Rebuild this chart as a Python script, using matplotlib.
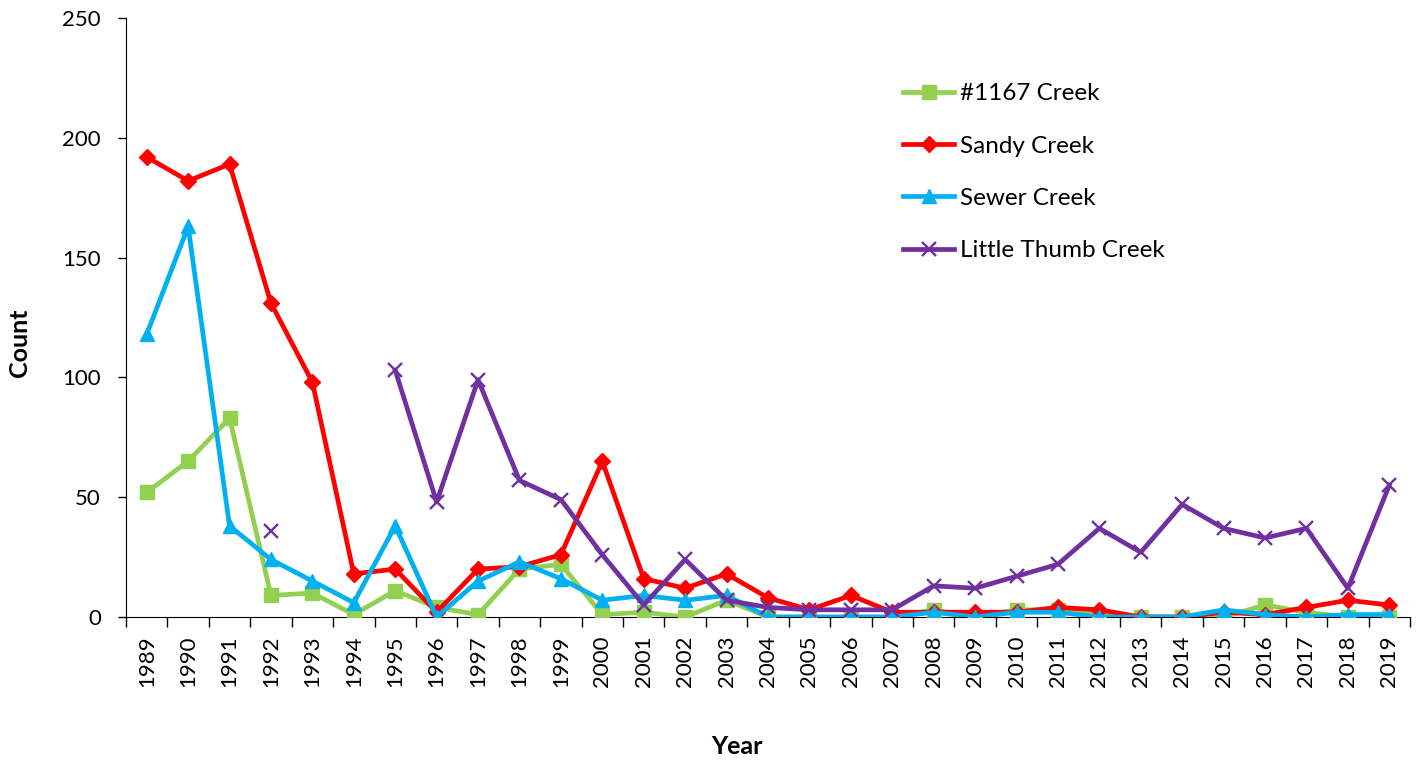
import numpy as np
import matplotlib
matplotlib.use("Agg")
import matplotlib.pyplot as plt
from matplotlib.ticker import FixedLocator

plt.rcParams['font.family'] = ['Lato', 'DejaVu Sans']

years = list(range(1989, 2020))
nan = np.nan
creek_1167 = [52, 65, 83, 9, 10, 1, 11, 4, 1, 20, 22, 1, 2, 0, 7, 0, 0, 0, 0, 3, 0, 3, 3, 1, 0, 0, 0, 5, 2, 0, 0]
sandy = [192, 182, 189, 131, 98, 18, 20, 2, 20, 21, 26, 65, 16, 12, 18, 8, 3, 9, 2, 2, 2, 2, 4, 3, 0, 0, 2, 1, 4, 7, 5]
sewer = [118, 163, 38, 24, 15, 6, 38, 0, 15, 23, 16, 7, 9, 7, 9, 0, 0, 0, 0, 2, 0, 2, 2, 0, 0, 0, 3, 1, 0, 1, 1]
little_thumb = [nan, nan, nan, 36, nan, nan, 103, 48, 99, 57, 49, 26, 5, 24, 7, 4, 3, 3, 3, 13, 12, 17, 22, 37, 27, 47, 37, 33, 37, 12, 55]

labels = ['#1167 Creek', 'Sandy Creek', 'Sewer Creek', 'Little Thumb Creek']

W, H = 1424, 763
fig = plt.figure(figsize=(W / 100, H / 100), dpi=100)
ax = fig.add_axes([126 / W, 1 - 617 / H, (1410 - 126) / W, (617 - 18) / H])

x = np.arange(len(years))
lw = 3.4
ax.plot(x, creek_1167, color='#92D050', lw=lw, marker='s', ms=10, label=labels[0], zorder=3)
ax.plot(x, sandy, color='#FF0000', lw=lw, marker='D', ms=8, label=labels[1], zorder=4)
ax.plot(x, sewer, color='#00B0F0', lw=lw, marker='^', ms=10.5, label=labels[2], zorder=5)
ax.plot(x, little_thumb, color='#7030A0', lw=lw, marker='x', ms=10, mew=1.7, label=labels[3], zorder=6)

ax.set_xlim(-0.5, len(years) - 0.5)
ax.set_ylim(0, 250)
ax.set_yticks([0, 50, 100, 150, 200, 250])
ax.set_xticks(x)
ax.set_xticklabels([str(y) for y in years], rotation=90, fontsize=16)
ax.tick_params(axis='x', length=0, pad=13)
ax.xaxis.set_minor_locator(FixedLocator(np.arange(-0.5, len(years), 1.0)))
ax.tick_params(axis='x', which='minor', length=7, width=1, direction='out', color='#000000')
ax.tick_params(axis='y', labelsize=16, length=6, width=1, direction='out', pad=12)

for s in ['top', 'right']:
    ax.spines[s].set_visible(False)
ax.spines['left'].set_color('#000000')
ax.spines['bottom'].set_color('#000000')

fig.text(19 / W, 1 - 343 / H, 'Count', rotation=90, ha='center', va='center',
         fontsize=18, fontweight='bold')
fig.text(737 / W, 1 - 746 / H, 'Year', ha='center', va='center',
         fontsize=18, fontweight='bold')

leg = ax.legend(loc='upper left', bbox_to_anchor=(891 / W, 1 - 71 / H),
                bbox_transform=fig.transFigure, frameon=False, borderpad=0,
                fontsize=17.5, handlelength=2.1, labelspacing=1.29, handletextpad=0.25)

fig.savefig('out.png', dpi=100)
